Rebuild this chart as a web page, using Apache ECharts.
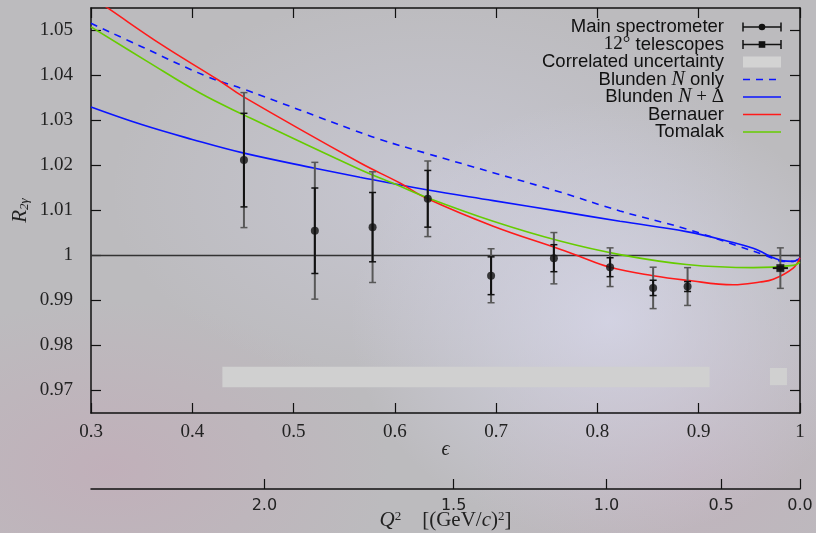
<!DOCTYPE html>
<html><head><meta charset="utf-8">
<script src="https://cdn.jsdelivr.net/npm/echarts@6/dist/echarts.min.js"></script>
<style>
html,body{margin:0;padding:0;}
body{width:816px;height:533px;overflow:hidden;
background:
 radial-gradient(ellipse 260px 220px at 610px 320px, rgba(214,214,232,0.85), rgba(214,214,232,0) 100%),
 radial-gradient(ellipse 320px 200px at 430px 190px, rgba(206,206,222,0.6), rgba(206,206,222,0) 100%),
 radial-gradient(ellipse 280px 170px at 110px 470px, rgba(198,162,180,0.45), rgba(198,162,180,0) 100%),
 radial-gradient(ellipse 220px 200px at 690px 470px, rgba(198,168,186,0.4), rgba(198,168,186,0) 100%),
 #bcbbbe;}
#c{width:816px;height:533px;}
</style></head><body><div id="c"></div>
<script>
// ---- axes ----
const xTicks = [0.3, 0.4, 0.5, 0.6, 0.7, 0.8, 0.9, 1.0];
const xTickLabels = ['0.3', '0.4', '0.5', '0.6', '0.7', '0.8', '0.9', '1'];
const yTicks = [0.97, 0.98, 0.99, 1.0, 1.01, 1.02, 1.03, 1.04, 1.05];
const yTickLabels = ['0.97', '0.98', '0.99', '1', '1.01', '1.02', '1.03', '1.04', '1.05'];
const q2TickEps = [0.4712, 0.6580, 0.8089, 0.9221, 1.0];
const q2TickLabels = ['2.0', '1.5', '1.0', '0.5', '0.0'];

// ---- data: main spectrometer ----
const mainEps  = [0.451, 0.521, 0.578, 0.6325, 0.695, 0.757, 0.8125, 0.855, 0.889];
const mainR    = [1.0212, 1.0055, 1.0063, 1.0126, 0.9955, 0.9994, 0.9974, 0.9928, 0.9931];
const mainStat = [0.0104, 0.0095, 0.0077, 0.0063, 0.0042, 0.0030, 0.0021, 0.0017, 0.0011];
const mainTot  = [0.0150, 0.0152, 0.0123, 0.0084, 0.0060, 0.0057, 0.0043, 0.0046, 0.0042];

// ---- data: 12 deg telescopes ----
const telEps  = [0.9806];
const telR    = [0.9972];
const telStat = [0.0004];
const telTot  = [0.0045];
const telEpsErr = [0.0075];

// ---- correlated uncertainty ----
const corrEpsLo = [0.4297, 0.9704];
const corrEpsHi = [0.9107, 0.9871];
const corrR     = [0.9730, 0.9731];
const corrHalf  = [0.0023, 0.0019];

// ---- theory curves ----
const blundenNEps = [0.30, 0.35, 0.4142, 0.4503, 0.559, 0.5853, 0.6313, 0.6971, 0.763, 0.8222, 0.888, 0.9374, 0.9637, 0.9736, 0.9834, 0.9933, 1.0];
const blundenNR   = [1.0516, 1.0464, 1.0398, 1.0370, 1.0279, 1.0258, 1.0227, 1.0184, 1.0141, 1.0099, 1.0059, 1.0022, 1.0002, 0.9993, 0.9987, 0.9987, 0.9995];

const blundenNDEps = [0.30, 0.35, 0.40, 0.45, 0.521, 0.5655, 0.6313, 0.6971, 0.763, 0.8222, 0.888, 0.934, 0.9538, 0.9637, 0.9736, 0.9834, 0.9933, 1.0];
const blundenNDR   = [1.0330, 1.0291, 1.0258, 1.0228, 1.0194, 1.0174, 1.0146, 1.0122, 1.0098, 1.0076, 1.0053, 1.0029, 1.0016, 1.0006, 0.9995, 0.9988, 0.9987, 0.9995];

const bernauerEps = [0.30, 0.3171, 0.37, 0.4257, 0.4503, 0.5655, 0.605, 0.6313, 0.6971, 0.763, 0.78, 0.8123, 0.855, 0.888, 0.934, 0.9605, 0.9736, 0.9933, 1.0];
const bernauerR   = [1.0575, 1.0549, 1.0468, 1.0390, 1.0353, 1.0206, 1.0161, 1.0127, 1.0065, 1.0014, 1.0000, 0.9974, 0.9955, 0.9945, 0.9935, 0.9941, 0.9947, 0.9972, 0.9995];

const tomalakEps = [0.30, 0.355, 0.4076, 0.4503, 0.5655, 0.6018, 0.6313, 0.6971, 0.763, 0.8222, 0.888, 0.9538, 0.9933, 1.0];
const tomalakR   = [1.0508, 1.0432, 1.0361, 1.0313, 1.0191, 1.0157, 1.0129, 1.0076, 1.0032, 1.0002, 0.9980, 0.9973, 0.9978, 0.9985];

const legendNames = ['Main spectrometer', '12° telescopes', 'Correlated uncertainty', 'Blunden N only', 'Blunden N + Δ', 'Bernauer', 'Tomalak'];

// ---- build ----
const zip = (a, b) => a.map((v, i) => [v, b[i]]);
const nearestLabel = (ticks, labels) => v => {
  let bi = 0, bd = Infinity;
  ticks.forEach((t, i) => { const d = Math.abs(t - v); if (d < bd) { bd = d; bi = i; } });
  return bd < 1e-6 ? labels[bi] : '';
};

const BLACK = '#111';
const GRAYBAR = '#585858';
const SERIF = 'Liberation Serif';
const SANS = 'Liberation Sans';

function errRender(params, api) {
  const e = api.value(0), r = api.value(1), s = api.value(2), t = api.value(3), xe = api.value(4);
  const pTo = api.coord([e, r + t]), pBo = api.coord([e, r - t]);
  const pTi = api.coord([e, r + s]), pBi = api.coord([e, r - s]);
  const cw = 3.5;
  const ln = (x1, y1, x2, y2, c, w) => ({ type: 'line', shape: { x1, y1, x2, y2 }, style: { stroke: c, lineWidth: w } });
  const ch = [
    ln(pTo[0], pTo[1], pBo[0], pBo[1], GRAYBAR, 2),
    ln(pTo[0] - cw, pTo[1], pTo[0] + cw, pTo[1], GRAYBAR, 1.5),
    ln(pBo[0] - cw, pBo[1], pBo[0] + cw, pBo[1], GRAYBAR, 1.5),
    ln(pTi[0], pTi[1], pBi[0], pBi[1], BLACK, 2),
    ln(pTi[0] - cw, pTi[1], pTi[0] + cw, pTi[1], BLACK, 1.5),
    ln(pBi[0] - cw, pBi[1], pBi[0] + cw, pBi[1], BLACK, 1.5)
  ];
  if (xe > 0) {
    const a = api.coord([e - xe, r]), b = api.coord([e + xe, r]);
    ch.push(ln(a[0], a[1], b[0], b[1], BLACK, 2));
  }
  return { type: 'group', children: ch };
}

const mainData = mainEps.map((e, i) => [e, mainR[i], mainStat[i], mainTot[i], 0]);
const telData = telEps.map((e, i) => [e, telR[i], telStat[i], telTot[i], telEpsErr[i]]);
const corrData = corrEpsLo.map((e, i) => [e, corrR[i], corrEpsHi[i], corrHalf[i]]);

function curve(name, eps, r, color, type) {
  return {
    name, type: 'line', data: zip(eps, r), symbol: 'none', smooth: 0.4,
    clip: true, z: 3, silent: true,
    lineStyle: { color, width: 1.6, type: type || 'solid' }
  };
}

const BLUE = '#0a14ff', RED = '#ff1a1a', GREEN = '#66cc00';

// legend graphic
const legX = 724, symL = 743, symR = 781, symC = 762;
const rowY = i => 27 + 17.5 * i;
const richSty = {
  a: { fontFamily: SANS, fontSize: 18.5, fill: BLACK, color: BLACK },
  i: { fontFamily: SERIF, fontStyle: 'italic', fontSize: 20, fill: BLACK, color: BLACK },
  s: { fontFamily: SERIF, fontSize: 19, fill: BLACK, color: BLACK }
};
const legendTexts = [
  '{a|' + legendNames[0] + '}',
  '{s|12°}{a| telescopes}',
  '{a|' + legendNames[2] + '}',
  '{a|Blunden }{i|N}{a| only}',
  '{a|Blunden }{i|N}{s| + Δ}',
  '{a|' + legendNames[5] + '}',
  '{a|' + legendNames[6] + '}'
];
const gLine = (x1, y1, x2, y2, stroke, w, dash) => ({ type: 'line', shape: { x1, y1, x2, y2 }, style: { stroke, lineWidth: w, lineDash: dash || null }, z: 10 });
const graphics = [];
legendTexts.forEach((t, i) => {
  graphics.push({ type: 'text', x: legX, y: rowY(i), z: 10, style: { text: t, rich: richSty, align: 'right', verticalAlign: 'middle' } });
});
[0, 1].forEach(i => {
  const y = rowY(i);
  graphics.push(gLine(symL, y, symR, y, BLACK, 1.5));
  graphics.push(gLine(symL, y - 4.5, symL, y + 4.5, BLACK, 1.5));
  graphics.push(gLine(symR, y - 4.5, symR, y + 4.5, BLACK, 1.5));
});
graphics.push({ type: 'circle', shape: { cx: symC, cy: rowY(0), r: 3.3 }, style: { fill: BLACK }, z: 11 });
graphics.push({ type: 'rect', shape: { x: symC - 3.3, y: rowY(1) - 3.3, width: 6.6, height: 6.6 }, style: { fill: BLACK }, z: 11 });
graphics.push({ type: 'rect', shape: { x: symL, y: rowY(2) - 5.5, width: symR - symL, height: 11 }, style: { fill: '#d3d3d3' }, z: 10 });
graphics.push(gLine(symL, rowY(3), symR, rowY(3), BLUE, 1.6, [7, 6]));
graphics.push(gLine(symL, rowY(4), symR, rowY(4), BLUE, 1.6));
graphics.push(gLine(symL, rowY(5), symR, rowY(5), RED, 1.6));
graphics.push(gLine(symL, rowY(6), symR, rowY(6), GREEN, 1.6));

const axisLineSty = { show: true, onZero: false, lineStyle: { color: BLACK, width: 1.5 } };
const tickSty = { color: BLACK, width: 1.2 };

const option = {
  animation: false,
  backgroundColor: 'transparent',
  grid: { left: 91, right: 16, top: 8, bottom: 120, containLabel: false, outerBoundsMode: 'none' },
  xAxis: [
    {
      type: 'value', position: 'bottom', min: 0.3, max: 1.0,
      axisLine: axisLineSty,
      axisTick: { inside: true, length: 10, lineStyle: tickSty, customValues: xTicks },
      axisLabel: { customValues: xTicks, formatter: nearestLabel(xTicks, xTickLabels), fontFamily: SERIF, fontSize: 19, color: '#222', margin: 10 },
      splitLine: { show: false },
      name: 'ϵ', nameLocation: 'middle', nameGap: 27, nameMoveOverlap: false,
      nameTextStyle: { fontFamily: SERIF, fontStyle: 'italic', fontSize: 20, color: '#222' }
    },
    {
      type: 'value', position: 'top', min: 0.3, max: 1.0,
      axisLine: axisLineSty,
      axisTick: { inside: true, length: 10, lineStyle: tickSty, customValues: xTicks },
      axisLabel: { show: false },
      splitLine: { show: false }
    },
    {
      type: 'value', position: 'bottom', offset: 76, min: 0.3, max: 1.0,
      axisLine: axisLineSty,
      axisTick: { inside: true, length: 10, lineStyle: tickSty, customValues: q2TickEps },
      axisLabel: { customValues: q2TickEps, formatter: nearestLabel(q2TickEps, q2TickLabels), fontFamily: 'DejaVu Sans', fontSize: 16, color: '#222', margin: 9 },
      splitLine: { show: false },
      name: '{i|Q}{sup|2}{n|    [(GeV/}{i|c}{n|)}{sup|2}{n|]}', nameLocation: 'middle', nameGap: 21, nameMoveOverlap: false,
      nameTextStyle: {
        color: '#222',
        rich: {
          i: { fontFamily: SERIF, fontStyle: 'italic', fontSize: 21, color: '#222' },
          n: { fontFamily: SERIF, fontSize: 21, color: '#222' },
          sup: { fontFamily: SERIF, fontSize: 13, color: '#222', verticalAlign: 'top', padding: [0, 0, 8, 0] }
        }
      }
    }
  ],
  yAxis: [
    {
      type: 'value', position: 'left', min: 0.965, max: 1.055,
      axisLine: axisLineSty,
      axisTick: { inside: true, length: 10, lineStyle: tickSty, customValues: yTicks },
      axisLabel: { customValues: yTicks, formatter: nearestLabel(yTicks, yTickLabels), fontFamily: SERIF, fontSize: 19, color: '#222', margin: 18 },
      splitLine: { show: false },
      name: '{r|R}{s|2γ}', nameLocation: 'middle', nameRotate: 90, nameGap: 60, nameMoveOverlap: false,
      nameTextStyle: {
        rich: {
          r: { fontFamily: SERIF, fontStyle: 'italic', fontSize: 21, color: '#222' },
          s: { fontFamily: SERIF, fontStyle: 'italic', fontSize: 13, color: '#222', verticalAlign: 'bottom', padding: [8, 0, 0, 0] }
        }
      }
    },
    {
      type: 'value', position: 'right', min: 0.965, max: 1.055,
      axisLine: axisLineSty,
      axisTick: { inside: true, length: 10, lineStyle: tickSty, customValues: yTicks },
      axisLabel: { show: false },
      splitLine: { show: false }
    }
  ],
  graphic: graphics,
  series: [
    {
      name: legendNames[2], type: 'custom', silent: true, z: 1,
      data: corrData,
      renderItem: (params, api) => {
        const a = api.coord([api.value(0), api.value(1) + api.value(3)]);
        const b = api.coord([api.value(2), api.value(1) - api.value(3)]);
        return { type: 'rect', shape: { x: a[0], y: a[1], width: b[0] - a[0], height: b[1] - a[1] }, style: { fill: '#d0d0d0' } };
      }
    },
    {
      name: 'unity', type: 'line', data: [[0.3, 1.0], [1.0, 1.0]], symbol: 'none', silent: true, z: 2,
      lineStyle: { color: '#333', width: 1.3 }
    },
    curve(legendNames[3], blundenNEps, blundenNR, BLUE, [7, 6]),
    curve(legendNames[4], blundenNDEps, blundenNDR, BLUE),
    curve(legendNames[5], bernauerEps, bernauerR, RED),
    curve(legendNames[6], tomalakEps, tomalakR, GREEN),
    { name: legendNames[0] + ' err', type: 'custom', data: mainData, renderItem: errRender, z: 4, silent: true },
    { name: legendNames[1] + ' err', type: 'custom', data: telData, renderItem: errRender, z: 4, silent: true },
    { name: legendNames[0], type: 'scatter', data: zip(mainEps, mainR), symbol: 'circle', symbolSize: 8, itemStyle: { color: BLACK }, z: 5, silent: true },
    { name: legendNames[1], type: 'scatter', data: zip(telEps, telR), symbol: 'rect', symbolSize: 8, itemStyle: { color: BLACK }, z: 5, silent: true }
  ]
};
const chart = echarts.init(document.getElementById('c'), null, { renderer: 'canvas' });
chart.setOption(option);
</script></body></html>
